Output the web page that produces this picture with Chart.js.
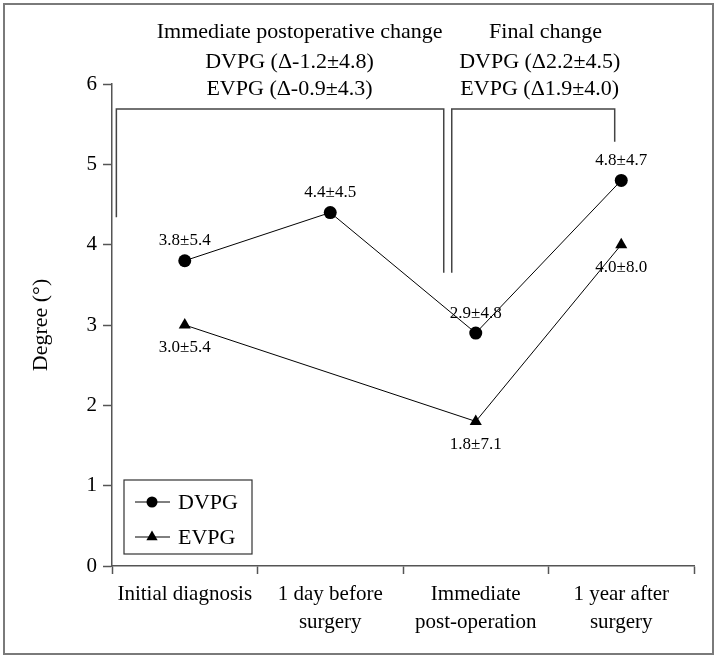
<!DOCTYPE html>
<html><head><meta charset="utf-8">
<script src="https://cdn.jsdelivr.net/npm/chart.js@4.4.1/dist/chart.umd.min.js"></script>
<style>html,body{margin:0;padding:0;background:#fff;} canvas{display:block;}</style>
</head><body>
<canvas id="c" width="717" height="658"></canvas>
<script>
// ---- data ----
const categories = [['Initial diagnosis'], ['1 day before', 'surgery'], ['Immediate', 'post-operation'], ['1 year after', 'surgery']];
const seriesNames = ['DVPG', 'EVPG'];
const dvpgValues = [3.8, 4.4, 2.9, 4.8];
const evpgValues = [3.0, null, 1.8, 4.0];
const dvpgLabels = ['3.8±5.4', '4.4±4.5', '2.9±4.8', '4.8±4.7'];
const evpgLabels = ['3.0±5.4', null, '1.8±7.1', '4.0±8.0'];
const yTickValues = [0, 1, 2, 3, 4, 5, 6];
const noteImmediate = ['Immediate postoperative change', 'DVPG (Δ-1.2±4.8)', 'EVPG (Δ-0.9±4.3)'];
const noteFinal = ['Final change', 'DVPG (Δ2.2±4.5)', 'EVPG (Δ1.9±4.0)'];

// ---- annotation geometry (in axis units) ----
const bracketGeom = [
  { xs: [-0.47, -0.47, 1.78, 1.78], ys: [4.34, 5.69, 5.69, 3.65] },
  { xs: [1.835, 1.835, 2.955, 2.955], ys: [3.65, 5.69, 5.69, 5.28] }
];
const noteGeom = [
  { lines: noteImmediate, xs: [0.79, 0.72, 0.72] },
  { lines: noteFinal, xs: [2.48, 2.44, 2.44] }
];
const noteLineY = [6.65, 6.27, 5.93];

const FONT = '"Liberation Serif", "DejaVu Serif", serif';

const annotPlugin = {
  id: 'annot',
  beforeDraw(chart) {
    const ctx = chart.ctx;
    ctx.save();
    ctx.fillStyle = '#fff';
    ctx.fillRect(0, 0, chart.width, chart.height);
    ctx.restore();
  },
  afterDatasetsDraw(chart) {
    const ctx = chart.ctx;
    ctx.save();
    ctx.font = '17px ' + FONT;
    ctx.fillStyle = '#000';
    ctx.textAlign = 'center';
    ctx.textBaseline = 'middle';
    const m0 = chart.getDatasetMeta(0), m1 = chart.getDatasetMeta(1);
    dvpgLabels.forEach((t, i) => { if (t) ctx.fillText(t, m0.data[i].x, m0.data[i].y - 20); });
    evpgLabels.forEach((t, i) => { if (t) ctx.fillText(t, m1.data[i].x, m1.data[i].y + 23); });
    ctx.restore();
  },
  afterDraw(chart) {
    const ctx = chart.ctx, xs = chart.scales.x, ys = chart.scales.y, ca = chart.chartArea;
    ctx.save();
    // brackets
    ctx.strokeStyle = '#444';
    ctx.lineWidth = 1.5;
    bracketGeom.forEach(b => {
      ctx.beginPath();
      b.xs.forEach((xv, i) => {
        const px = xs.getPixelForValue(xv), py = ys.getPixelForValue(b.ys[i]);
        if (i === 0) ctx.moveTo(px, py); else ctx.lineTo(px, py);
      });
      ctx.stroke();
    });
    // notes
    ctx.fillStyle = '#000';
    ctx.font = '22px ' + FONT;
    ctx.textAlign = 'center';
    ctx.textBaseline = 'middle';
    noteGeom.forEach(n => {
      n.lines.forEach((t, i) => {
        ctx.fillText(t, xs.getPixelForValue(n.xs[i]), ys.getPixelForValue(noteLineY[i]));
      });
    });
    // legend box
    const lx = ca.left + 12, ly = ca.bottom - 86, lw = 128, lh = 74;
    ctx.strokeStyle = '#333';
    ctx.lineWidth = 1.2;
    ctx.strokeRect(lx, ly, lw, lh);
    chart.data.datasets.forEach((ds, i) => {
      const cy = ly + 22 + i * 35;
      ctx.strokeStyle = '#000';
      ctx.lineWidth = 1;
      ctx.beginPath();
      ctx.moveTo(lx + 11, cy); ctx.lineTo(lx + 46, cy);
      ctx.stroke();
      ctx.fillStyle = '#000';
      Chart.helpers.drawPoint(ctx, { pointStyle: ds.pointStyle, radius: ds.pointStyle === 'triangle' ? 6.5 : 5.5, borderWidth: 0 }, lx + 28, cy);
      ctx.fillStyle = '#000';
      ctx.font = '22px ' + FONT;
      ctx.textAlign = 'left';
      ctx.fillText(ds.label, lx + 54, cy + 1);
    });
    // outer frame
    ctx.strokeStyle = '#7a7a7a';
    ctx.lineWidth = 2;
    ctx.strokeRect(4, 4, chart.width - 8, chart.height - 8);
    ctx.restore();
  }
};

new Chart(document.getElementById('c'), {
  type: 'line',
  data: {
    labels: categories,
    datasets: [
      { label: seriesNames[0], data: dvpgValues, borderColor: '#000', borderWidth: 1, backgroundColor: '#000',
        pointStyle: 'circle', pointRadius: 6.5, pointBackgroundColor: '#000', pointBorderWidth: 0, tension: 0 },
      { label: seriesNames[1], data: evpgValues, borderColor: '#000', borderWidth: 1, backgroundColor: '#000',
        pointStyle: 'triangle', pointRadius: 7, pointBackgroundColor: '#000', pointBorderWidth: 0, spanGaps: true, tension: 0 }
    ]
  },
  options: {
    responsive: false,
    animation: false,
    devicePixelRatio: 1,
    layout: { padding: { top: 84, right: 23, left: 0, bottom: 0 } },
    plugins: { legend: { display: false }, tooltip: { enabled: false } },
    scales: {
      x: {
        type: 'category',
        offset: true,
        grid: { offset: true, drawOnChartArea: false, tickLength: 8, color: '#555', tickWidth: 1.5 },
        border: { color: '#555', width: 1.5 },
        ticks: { color: '#000', font: { family: FONT, size: 21, lineHeight: 1.33 }, padding: 7, maxRotation: 0, autoSkip: false },
        afterFit(s) { s.height = 92; }
      },
      y: {
        min: 0, max: 6,
        afterBuildTicks(s) { s.ticks = yTickValues.map(v => ({ value: v })); },
        grid: { drawOnChartArea: false, tickLength: 9, color: '#555', tickWidth: 1.5 },
        border: { color: '#555', width: 1.5 },
        ticks: { color: '#000', font: { family: FONT, size: 21 }, padding: 6 },
        title: { display: true, text: 'Degree (°)', color: '#000', font: { family: FONT, size: 22 }, padding: { top: 28, bottom: 0 } },
        afterFit(s) { s.width = 112; }
      }
    }
  },
  plugins: [annotPlugin]
});
</script>
</body></html>
